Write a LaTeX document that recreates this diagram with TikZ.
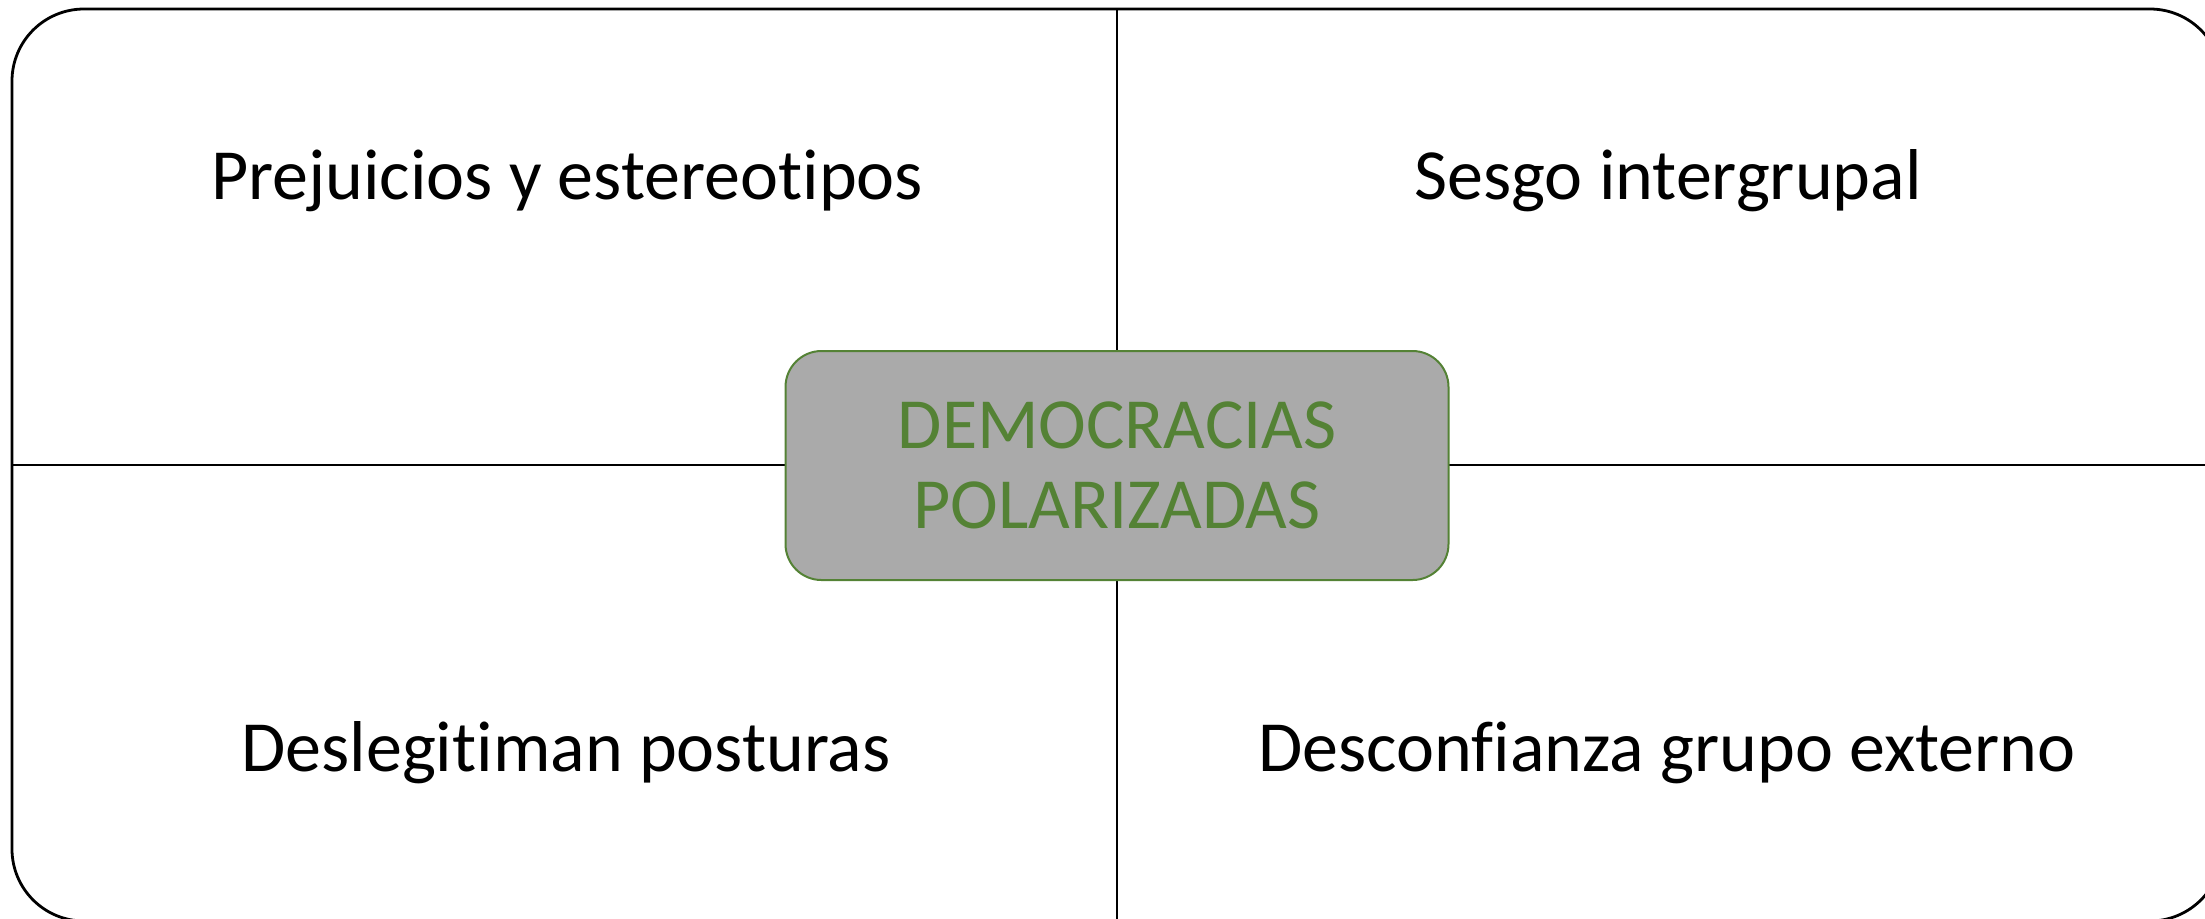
\documentclass[tikz,border=0pt]{standalone}
\usepackage{fontspec}
\setmainfont{Carlito}[Ligatures={NoCommon}]
\usepackage{xcolor}
\usetikzlibrary{positioning}

\definecolor{verdeborde}{RGB}{84,130,53}
\definecolor{grisfondo}{RGB}{170,170,170}

\begin{document}
\begin{tikzpicture}[x=0.5pt,y=-0.5pt,
                    cuadro/.style={anchor=base,font=\fontsize{36}{40}\selectfont},
                    centro/.style={draw=verdeborde,line width=1pt,fill=grisfondo,
                      rounded corners=18pt,minimum width=331.5pt,minimum height=114.5pt,
                      align=center,text=verdeborde,inner sep=0pt,
                      font=\fontsize{36}{40}\selectfont},
                    marco/.style={draw=black,line width=1.4pt}]
  \clip (0,0) rectangle (2205,918);

  % marco exterior
  \draw[marco,rounded corners=36pt] (12,9) rectangle (2222,921);

  \coordinate (arriba) at (1117,9);
  \coordinate (abajo)  at (1117,921);
  \coordinate (izq)    at (12,465);
  \coordinate (der)    at (2222,465);
  \draw[marco] (arriba) -- (abajo);
  \draw[marco] (izq) -- (der);

  \node[cuadro] (prej)  at (567,199)  {Prejuicios y estereotipos};
  \node[cuadro] (sesgo) at (1668,199) {Sesgo intergrupal};
  \node[cuadro] (desl)  at (566,771)  {Deslegitiman posturas};
  \node[cuadro] (desc)  at (1667,771) {Desconfianza grupo externo};

  \node[centro] (demo) at (1117,465.5) {DEMOCRACIAS\\POLARIZADAS};
\end{tikzpicture}
\end{document}
